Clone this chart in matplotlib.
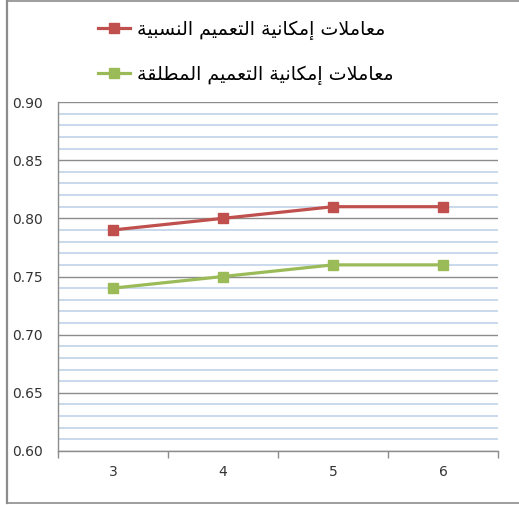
import matplotlib
matplotlib.use("Agg")
import matplotlib.pyplot as plt
from matplotlib.lines import Line2D
from matplotlib.ticker import MultipleLocator, FixedLocator, FormatStrFormatter

# ---- data ----
categories = ["3", "4", "5", "6"]
relative_values = [0.79, 0.80, 0.81, 0.81]
absolute_values = [0.74, 0.75, 0.76, 0.76]
series_labels = ["معاملات إمكانية التعميم النسبية", "معاملات إمكانية التعميم المطلقة"]
y_ticks = [0.60, 0.65, 0.70, 0.75, 0.80, 0.85, 0.90]

# ---- simple Arabic shaping (presentation forms) for display ----
FORMS = {
    'ا': ('\uFE8D', '\uFE8E', None, None),
    'إ': ('\uFE87', '\uFE88', None, None),
    'أ': ('\uFE83', '\uFE84', None, None),
    'آ': ('\uFE81', '\uFE82', None, None),
    'ب': ('\uFE8F', '\uFE90', '\uFE91', '\uFE92'),
    'ة': ('\uFE93', '\uFE94', None, None),
    'ت': ('\uFE95', '\uFE96', '\uFE97', '\uFE98'),
    'س': ('\uFEB1', '\uFEB2', '\uFEB3', '\uFEB4'),
    'ط': ('\uFEC1', '\uFEC2', '\uFEC3', '\uFEC4'),
    'ع': ('\uFEC9', '\uFECA', '\uFECB', '\uFECC'),
    'ق': ('\uFED5', '\uFED6', '\uFED7', '\uFED8'),
    'ك': ('\uFED9', '\uFEDA', '\uFEDB', '\uFEDC'),
    'ل': ('\uFEDD', '\uFEDE', '\uFEDF', '\uFEE0'),
    'م': ('\uFEE1', '\uFEE2', '\uFEE3', '\uFEE4'),
    'ن': ('\uFEE5', '\uFEE6', '\uFEE7', '\uFEE8'),
    'ي': ('\uFEF1', '\uFEF2', '\uFEF3', '\uFEF4'),
}
LAMALEF = {'ا': ('\uFEFB', '\uFEFC'), 'إ': ('\uFEF9', '\uFEFA'),
           'أ': ('\uFEF7', '\uFEF8'), 'آ': ('\uFEF5', '\uFEF6')}


def shape(s):
    def dual(c):
        return c in FORMS and FORMS[c][2] is not None
    out = []
    n = len(s)
    i = 0
    while i < n:
        c = s[i]
        if c not in FORMS:
            out.append(c)
            i += 1
            continue
        prev = s[i - 1] if i > 0 else None
        jp = prev is not None and dual(prev)
        if c == 'ل' and i + 1 < n and s[i + 1] in LAMALEF:
            iso, fin = LAMALEF[s[i + 1]]
            out.append(fin if jp else iso)
            i += 2
            continue
        nxt = s[i + 1] if i + 1 < n else None
        jn = dual(c) and nxt in FORMS
        f = FORMS[c]
        if jp and jn:
            g = f[3]
        elif jp:
            g = f[1]
        elif jn:
            g = f[2]
        else:
            g = f[0]
        out.append(g)
        i += 1
    return ''.join(out)[::-1]


plt.rcParams['font.family'] = ['DejaVu Sans']

fig = plt.figure(figsize=(5.19, 5.05), dpi=100)
fig.patch.set_facecolor('white')

# outer chart border (left, top, bottom)
fig.add_artist(Line2D([7/519, 7/519], [2/505, 504/505], color='#8c8c8c', lw=1.6))
fig.add_artist(Line2D([7/519, 1.0], [504/505, 504/505], color='#8c8c8c', lw=1.2))
fig.add_artist(Line2D([7/519, 1.0], [2/505, 2/505], color='#8c8c8c', lw=1.2))

ax = fig.add_axes([58/519, 54/505, 440/519, 349/505])
x = list(range(len(categories)))

red = '#c0504d'
green = '#9bbb59'
ax.plot(x, relative_values, color=red, lw=2.3, marker='s', markersize=7.5,
        label=shape(series_labels[0]), zorder=5)
ax.plot(x, absolute_values, color=green, lw=2.3, marker='s', markersize=7.5,
        label=shape(series_labels[1]), zorder=5)

ax.set_xlim(-0.5, len(categories) - 0.5)
ax.set_ylim(0.60, 0.90)
ax.set_yticks(y_ticks)
ax.yaxis.set_major_formatter(FormatStrFormatter('%.2f'))
ax.yaxis.set_minor_locator(MultipleLocator(0.01))

ax.set_xticks(x)
ax.set_xticklabels(categories)
ax.xaxis.set_minor_locator(FixedLocator([i - 0.5 for i in range(len(categories) + 1)]))

ax.grid(which='minor', axis='y', color='#c6d6ec', lw=1.3, zorder=0)
ax.grid(which='major', axis='y', color='#8c8c8c', lw=1.0, zorder=1)
ax.set_axisbelow(True)

for sp in ['right', 'top']:
    ax.spines[sp].set_visible(False)
ax.spines['left'].set_color('#8c8c8c')
ax.spines['bottom'].set_color('#8c8c8c')
ax.spines['left'].set_linewidth(1.0)
ax.spines['bottom'].set_linewidth(1.0)

ax.tick_params(axis='y', which='both', length=0, labelsize=10, labelcolor='#333333', pad=11)
ax.tick_params(axis='x', which='major', length=0, labelsize=10, labelcolor='#333333', pad=10)
ax.tick_params(axis='x', which='minor', length=5, color='#8c8c8c', width=1.0, direction='out')

leg = ax.legend(loc='upper left', bbox_to_anchor=(88/519, 1 - 10/505), bbox_transform=fig.transFigure,
                frameon=False, fontsize=13.7, handlelength=1.7, handletextpad=0.35,
                labelspacing=1.3, borderpad=0)

fig.savefig('out.png', dpi=100, facecolor='white')
